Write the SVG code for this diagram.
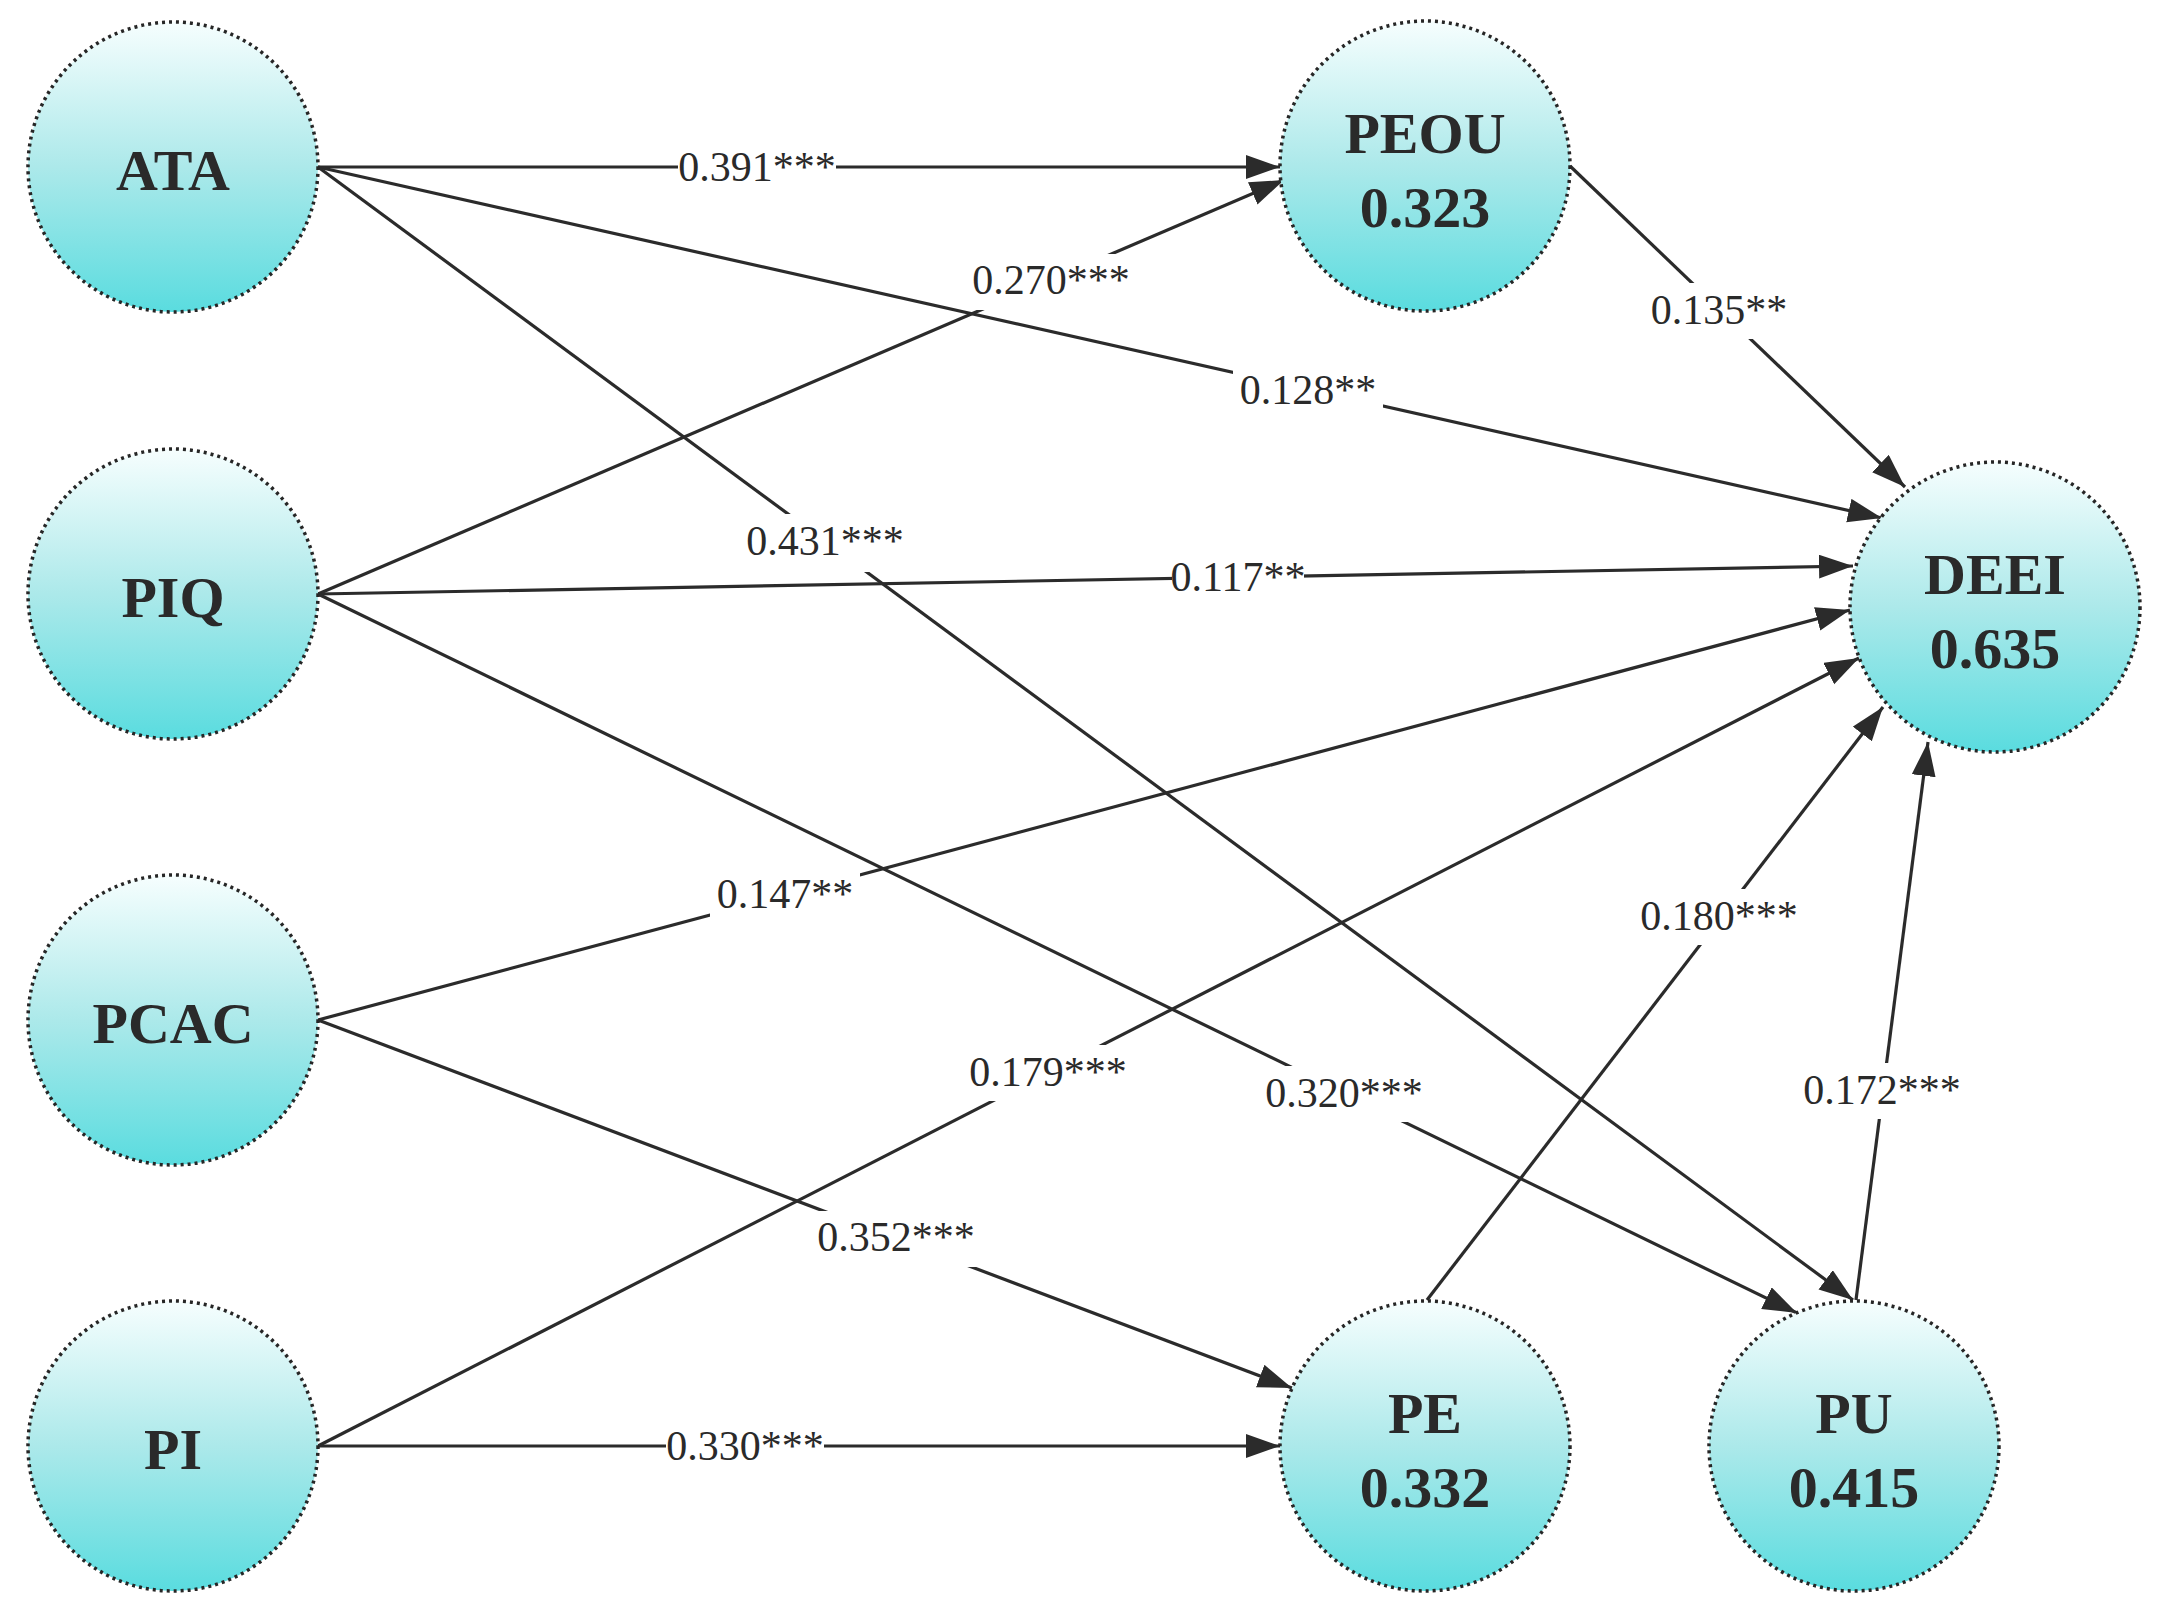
<svg xmlns="http://www.w3.org/2000/svg" width="2163" height="1610" viewBox="0 0 2163 1610">
<style>
.node{fill:url(#g);stroke:#262626;stroke-width:3.5;stroke-dasharray:3 4}
.nt{font-family:"Liberation Serif",serif;font-weight:bold;font-size:58px;fill:#2a2a2a;text-anchor:middle}
.arr{stroke:#2b2b2b;stroke-width:3.2;fill:none;marker-end:url(#ah)}
.lb{fill:#fff}
.lt{font-family:"Liberation Serif",serif;font-size:42px;fill:#2a2a2a;text-anchor:middle}
</style>
<defs>
<linearGradient id="g" x1="0" y1="0" x2="0" y2="1">
<stop offset="0" stop-color="#f6fefe"/>
<stop offset="0.5" stop-color="#ace9ea"/>
<stop offset="1" stop-color="#5adcdf"/>
</linearGradient>
<marker id="ah" markerUnits="userSpaceOnUse" markerWidth="36" markerHeight="26" refX="34" refY="12" orient="auto">
<path d="M0,0 L34,12 L0,24 z" fill="#2b2b2b"/>
</marker>
</defs>
<rect width="2163" height="1610" fill="#fff"/>
<g id="connectors">
<line class="arr" x1="318" y1="167" x2="1280" y2="167"/>
<line class="arr" x1="318" y1="167" x2="1882" y2="518"/>
<line class="arr" x1="318" y1="167" x2="1853" y2="1300"/>
<line class="arr" x1="318" y1="594" x2="1284" y2="180"/>
<line class="arr" x1="318" y1="594" x2="1853" y2="566"/>
<line class="arr" x1="318" y1="594" x2="1797" y2="1313"/>
<line class="arr" x1="318" y1="1020" x2="1850" y2="610"/>
<line class="arr" x1="318" y1="1020" x2="1292" y2="1388"/>
<line class="arr" x1="318" y1="1446" x2="1859" y2="658"/>
<line class="arr" x1="318" y1="1446" x2="1280" y2="1446"/>
<line class="arr" x1="1570" y1="166" x2="1905" y2="487"/>
<line class="arr" x1="1427" y1="1300" x2="1883" y2="707"/>
<line class="arr" x1="1856" y1="1300" x2="1928" y2="742"/>
<g id="labels">
<rect class="lb" x="678" y="141" width="158" height="52"/><text class="lt" x="757" y="181">0.391***</text>
<rect class="lb" x="1233" y="364" width="150" height="54"/><text class="lt" x="1308" y="404">0.128**</text>
<rect class="lb" x="742" y="514" width="166" height="58"/><text class="lt" x="825" y="555">0.431***</text>
<rect class="lb" x="968" y="254" width="166" height="56"/><text class="lt" x="1051" y="294">0.270***</text>
<rect class="lb" x="1172" y="552" width="132" height="52"/><text class="lt" x="1238" y="591">0.117**</text>
<rect class="lb" x="1261" y="1066" width="166" height="56"/><text class="lt" x="1344" y="1107">0.320***</text>
<rect class="lb" x="710" y="868" width="150" height="54"/><text class="lt" x="785" y="908">0.147**</text>
<rect class="lb" x="813" y="1211" width="166" height="56"/><text class="lt" x="896" y="1251">0.352***</text>
<rect class="lb" x="965" y="1045" width="166" height="56"/><text class="lt" x="1048" y="1086">0.179***</text>
<rect class="lb" x="666" y="1420" width="158" height="52"/><text class="lt" x="745" y="1460">0.330***</text>
<rect class="lb" x="1644" y="283" width="150" height="56"/><text class="lt" x="1719" y="324">0.135**</text>
<rect class="lb" x="1636" y="889" width="166" height="56"/><text class="lt" x="1719" y="930">0.180***</text>
<rect class="lb" x="1799" y="1063" width="166" height="56"/><text class="lt" x="1882" y="1104">0.172***</text>
</g>
</g>
<g id="ATA"><circle class="node" cx="173" cy="167" r="145"/><text class="nt" x="173" y="190">ATA</text></g>
<g id="PIQ"><circle class="node" cx="173" cy="594" r="145"/><text class="nt" x="173" y="617">PIQ</text></g>
<g id="PCAC"><circle class="node" cx="173" cy="1020" r="145"/><text class="nt" x="173" y="1043">PCAC</text></g>
<g id="PI"><circle class="node" cx="173" cy="1446" r="145"/><text class="nt" x="173" y="1469">PI</text></g>
<g id="PEOU"><circle class="node" cx="1425" cy="166" r="145"/><text class="nt" x="1425" y="153">PEOU</text><text class="nt" x="1425" y="227">0.323</text></g>
<g id="DEEI"><circle class="node" cx="1995" cy="607" r="145"/><text class="nt" x="1995" y="594">DEEI</text><text class="nt" x="1995" y="668">0.635</text></g>
<g id="PE"><circle class="node" cx="1425" cy="1446" r="145"/><text class="nt" x="1425" y="1433">PE</text><text class="nt" x="1425" y="1507">0.332</text></g>
<g id="PU"><circle class="node" cx="1854" cy="1446" r="145"/><text class="nt" x="1854" y="1433">PU</text><text class="nt" x="1854" y="1507">0.415</text></g>
</svg>
